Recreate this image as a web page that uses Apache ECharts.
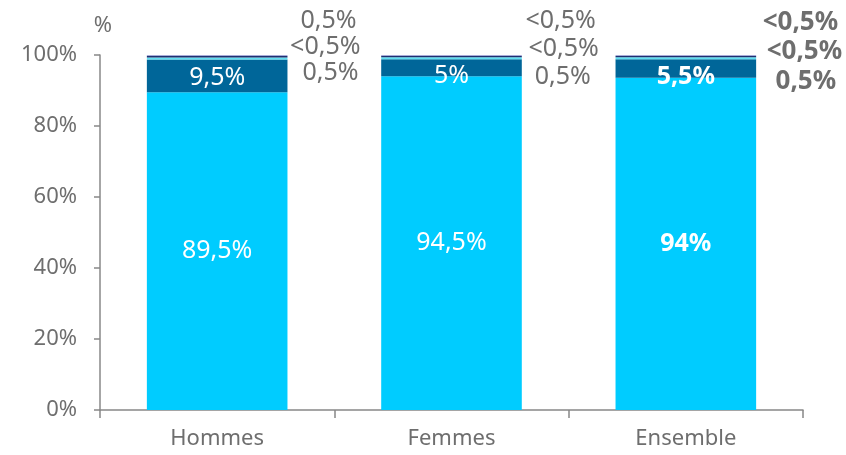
<!DOCTYPE html>
<html>
<head>
<meta charset="utf-8">
<script src="https://cdn.jsdelivr.net/npm/echarts@6/dist/echarts.min.js"></script>
<style>
  html, body { margin: 0; padding: 0; background: #fff; }
  #c1 { width: 846px; height: 455px; }
</style>
</head>
<body>
<div id="c1"></div>
<script>
var categories = ["Hommes", "Femmes", "Ensemble"];
var yTicks = [0, 20, 40, 60, 80, 100];

// stacked shares, bottom to top
var majority = [89.5, 94, 93.6];
var second = [9.2, 4.8, 5.2];
var third = [0.6, 0.6, 0.6];
var fourth = [0.4, 0.35, 0.35];
var fifth = [0.3, 0.25, 0.25];

// printed labels
var majorityText = ["89,5%", "94,5%", "94%"];
var secondText = ["9,5%", "5%", "5,5%"];
var thirdText = ["0,5%", "0,5%", "0,5%"];
var fourthText = ["<0,5%", "<0,5%", "<0,5%"];
var fifthText = ["0,5%", "<0,5%", "<0,5%"];

var chartDom = document.getElementById("c1");
var myChart = echarts.init(chartDom);
var font = "Noto Sans";
var grey = "#6e6e6e";

// where the outside labels sit (right edge from bar, vertical shift)
var thirdOff = [[71, 14], [69, 19], [80, 23]];
var fourthOff = [[73, -10], [77, -8], [86, -5]];
var fifthOff = [[69, -35], [74, -35], [82, -33]];
var secondShift = [2, 8, 8];

function boldIf(i) {
  return i == 2 ? "bold" : "normal";
}

function innerData(vals, texts, shifts) {
  return vals.map(function (v, i) {
    return {
      value: v,
      label: {
        formatter: texts[i],
        fontWeight: boldIf(i),
        offset: [0, shifts ? shifts[i] : 0],
      },
    };
  });
}

function outerData(vals, texts, offs) {
  return vals.map(function (v, i) {
    return {
      value: v,
      label: {
        formatter: texts[i],
        fontWeight: boldIf(i),
        fontSize: i == 2 ? 26 : 25,
        offset: offs[i],
      },
    };
  });
}

var outerLabel = {
  show: true,
  position: ["100%", "50%"],
  align: "right",
  verticalAlign: "middle",
  color: grey,
  fontFamily: font,
  fontSize: 25,
};

var innerLabel = {
  show: true,
  position: "inside",
  color: "#fff",
  fontFamily: font,
  fontSize: 25,
};

option = {
  animation: false,
  grid: { left: 100, right: 43, top: 55, bottom: 45 },
  xAxis: {
    type: "category",
    data: categories,
    axisLine: { lineStyle: { color: "#888", width: 1.5 } },
    axisTick: { show: true, length: 8, lineStyle: { color: "#888", width: 1.5 } },
    axisLabel: { color: grey, fontFamily: font, fontSize: 22, margin: 18 },
  },
  yAxis: {
    type: "value",
    min: 0,
    max: 100,
    interval: 20,
    name: "%",
    nameGap: 18,
    nameTextStyle: { color: grey, fontFamily: font, fontSize: 22, padding: [0, 0, 0, 6] },
    axisLine: { show: true, lineStyle: { color: "#888", width: 1.5 } },
    axisTick: { show: true, length: 6, lineStyle: { color: "#888", width: 1.5 } },
    splitLine: { show: false },
    axisLabel: {
      color: grey,
      fontFamily: font,
      fontSize: 22,
      margin: 23,
      formatter: function (v) {
        return yTicks.indexOf(v) >= 0 ? v + "%" : "";
      },
    },
  },
  series: [
    {
      type: "bar",
      stack: "s",
      barWidth: "60%",
      itemStyle: { color: "#00ccff" },
      label: innerLabel,
      data: innerData(majority, majorityText),
    },
    {
      type: "bar",
      stack: "s",
      itemStyle: { color: "#006699" },
      label: innerLabel,
      data: innerData(second, secondText, secondShift),
    },
    {
      type: "bar",
      stack: "s",
      itemStyle: { color: "#5fe0f2" },
      label: outerLabel,
      data: outerData(third, thirdText, thirdOff),
    },
    {
      type: "bar",
      stack: "s",
      itemStyle: { color: "#1f3070" },
      label: outerLabel,
      data: outerData(fourth, fourthText, fourthOff),
    },
    {
      type: "bar",
      stack: "s",
      itemStyle: { color: "#a9acd8" },
      label: outerLabel,
      data: outerData(fifth, fifthText, fifthOff),
    },
  ],
};

option && myChart.setOption(option, true);
</script>
</body>
</html>
